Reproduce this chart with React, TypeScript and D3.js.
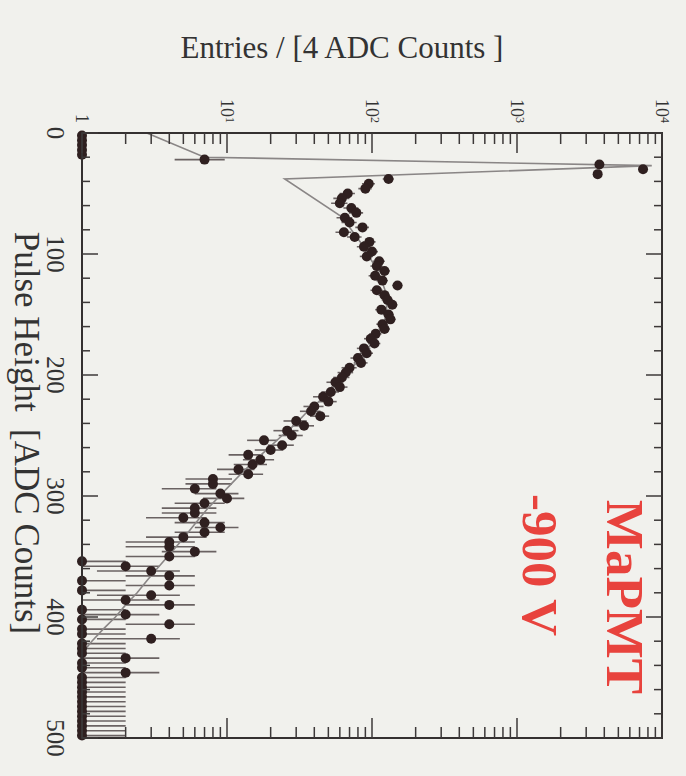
import React, { useEffect, useRef } from "react";
import * as d3 from "d3";

// entries per 4-ADC-count bin, bins 0-4, 4-8, ... 496-500
const counts = [
  1, 1, 1, 1, 1, 7, 3700, 7400, 3600, 130,
  95, 90, 68, 62, 60, 72, 78, 65, 70, 86,
  64, 76, 96, 88, 100, 92, 112, 108, 122, 105,
  118, 150, 108, 122, 128, 138, 116, 130, 134, 118,
  122, 106, 98, 104, 88, 92, 80, 84, 70, 66,
  62, 56, 60, 52, 46, 50, 40, 38, 44, 30,
  34, 26, 28, 18, 24, 20, 14, 17, 15, 12,
  14, 8, 8, 6, 9, 10, 7, 6, 6, 5,
  7, 9, 7, 5, 4, 4, 6, 4, 1, 2,
  3, 4, 1, 4, 1, 3, 2, 4, 1, 2,
  1, 4, 1, 1, 3, 1, 1, 1, 2, 1,
  1, 2, 1, 1, 1, 1, 1, 1, 1, 1,
  1, 1, 1, 1, 1,
];
// pedestal bins drawn without error bars
const noErrBins = [0, 1, 2, 3, 4];

// fitted function, sampled
const fitPulse = [0, 20, 27, 38, 70, 80, 90, 100, 110, 120, 130, 140, 150, 160, 170, 180, 190, 200,
  210, 220, 230, 240, 250, 260, 270, 280, 290, 300, 310, 320, 330, 340, 350, 360, 370, 380,
  390, 400, 410, 420, 430, 440];
const fitValue = [2.8, 7, 8500, 25, 63, 72, 83, 93, 105, 115, 123, 126, 126, 117, 105, 91, 78, 65,
  54, 45, 36, 30, 24, 19.5, 15.8, 12.9, 10.7, 8.9, 7.4, 6.3, 5.4, 4.6, 3.9, 3.3, 2.8, 2.4,
  2.0, 1.7, 1.4, 1.17, 1.0, 0.85];

const pulseTicks = [0, 100, 200, 300, 400, 500];
const decadeTicks = [1, 10, 100, 1000, 10000];
const decadeBase = ["1", "10", "10", "10", "10"];
const decadeExp = ["", "1", "2", "3", "4"];

const serif = "'Liberation Serif', 'Times New Roman', serif";

export default function App() {
  const svgRef = useRef(null);

  useEffect(() => {
    const svg = d3.select(svgRef.current);
    svg.selectAll("*").remove();

    const W = 605; // pulse height axis length
    const H = 580; // entries axis length

    svg.append("rect").attr("width", 686).attr("height", 776).attr("fill", "#f1f1ed");

    // chart is drawn in normal orientation, then turned a quarter clockwise
    const g = svg.append("g").attr("transform", "translate(662,133) rotate(90)");

    const x = d3.scaleLinear().domain([0, 500]).range([0, W]);
    const y = d3.scaleLog().domain([1, 10000]).range([H, 0]);

    g.append("clipPath").attr("id", "plotclip")
      .append("rect").attr("width", W).attr("height", H);

    const bins = d3.range(2, 500, 4);
    const data = bins.map((p, i) => ({ p, n: counts[i], err: !noErrBins.includes(i) }));

    // error bars
    g.append("g").attr("clip-path", "url(#plotclip)")
      .selectAll("line")
      .data(data.filter(d => d.err))
      .join("line")
      .attr("x1", d => x(d.p))
      .attr("x2", d => x(d.p))
      .attr("y1", d => y(Math.max(d.n - Math.sqrt(d.n), 1)))
      .attr("y2", d => y(d.n + Math.sqrt(d.n)))
      .attr("stroke", "#6a6262")
      .attr("stroke-width", 1.6);

    // fit curve
    const line = d3.line<number>()
      .x((d, i) => x(fitPulse[i]))
      .y(d => y(d));
    g.append("path")
      .attr("clip-path", "url(#plotclip)")
      .attr("d", line(fitValue))
      .attr("fill", "none")
      .attr("stroke", "#8a8686")
      .attr("stroke-width", 1.6);

    // markers
    g.append("g")
      .selectAll("circle")
      .data(data)
      .join("circle")
      .attr("cx", d => x(d.p))
      .attr("cy", d => y(d.n))
      .attr("r", 5)
      .attr("fill", "#2f2020");

    // frame
    g.append("rect")
      .attr("width", W).attr("height", H)
      .attr("fill", "none").attr("stroke", "#353131").attr("stroke-width", 2);

    const ticks = g.append("g").attr("stroke", "#3c3838").attr("stroke-width", 1.5);

    // pulse height ticks (bottom and top of normal frame)
    d3.range(0, 501, 20).forEach(t => {
      const len = t % 100 === 0 ? 16 : 8;
      ticks.append("line").attr("x1", x(t)).attr("x2", x(t)).attr("y1", H).attr("y2", H - len);
      ticks.append("line").attr("x1", x(t)).attr("x2", x(t)).attr("y1", 0).attr("y2", len);
    });

    // log ticks (left and right of normal frame)
    decadeTicks.forEach((d, k) => {
      ticks.append("line").attr("x1", 0).attr("x2", 20).attr("y1", y(d)).attr("y2", y(d));
      ticks.append("line").attr("x1", W).attr("x2", W - 20).attr("y1", y(d)).attr("y2", y(d));
      if (k < decadeTicks.length - 1) {
        d3.range(2, 10).forEach(m => {
          const v = d * m;
          ticks.append("line").attr("x1", 0).attr("x2", 11).attr("y1", y(v)).attr("y2", y(v));
          ticks.append("line").attr("x1", W).attr("x2", W - 11).attr("y1", y(v)).attr("y2", y(v));
        });
      }
    });

    // pulse tick labels
    g.append("g")
      .selectAll("text")
      .data(pulseTicks)
      .join("text")
      .attr("x", d => x(d))
      .attr("y", 615)
      .attr("text-anchor", "middle")
      .attr("font-family", serif)
      .attr("font-size", 25)
      .attr("fill", "#333")
      .text(d => d);

    // log tick labels
    decadeTicks.forEach((d, k) => {
      const t = g.append("text")
        .attr("x", -10)
        .attr("y", y(d))
        .attr("dy", "0.35em")
        .attr("text-anchor", "end")
        .attr("font-family", serif)
        .attr("font-size", 18)
        .attr("fill", "#333");
      t.append("tspan").text(decadeBase[k]);
      if (decadeExp[k]) {
        t.append("tspan").attr("dy", "-0.45em").attr("font-size", 12).text(decadeExp[k]);
      }
    });

    // x title
    g.append("text")
      .attr("x", 300)
      .attr("y", 647)
      .attr("text-anchor", "middle")
      .attr("font-family", serif)
      .attr("font-size", 35)
      .attr("fill", "#333")
      .style("white-space", "pre")
      .text("Pulse Height  [ADC Counts]");

    // labels
    g.append("text")
      .attr("x", 464)
      .attr("y", 55)
      .attr("text-anchor", "middle")
      .attr("font-family", serif)
      .attr("font-weight", "bold")
      .attr("font-size", 53)
      .attr("fill", "#e8433d")
      .text("MaPMT");
    g.append("text")
      .attr("x", 432)
      .attr("y", 139)
      .attr("text-anchor", "middle")
      .attr("font-family", serif)
      .attr("font-weight", "bold")
      .attr("font-size", 51)
      .attr("fill", "#e8433d")
      .text("-900 V");

    // y title, horizontal after the turn
    svg.append("text")
      .attr("x", 342)
      .attr("y", 58)
      .attr("text-anchor", "middle")
      .attr("font-family", serif)
      .attr("font-size", 31)
      .attr("fill", "#333")
      .text("Entries / [4 ADC Counts ]");
  }, []);

  return (
    <svg ref={svgRef} width={686} height={776} style={{ position: "absolute", left: 0, top: 0 }} />
  );
}
